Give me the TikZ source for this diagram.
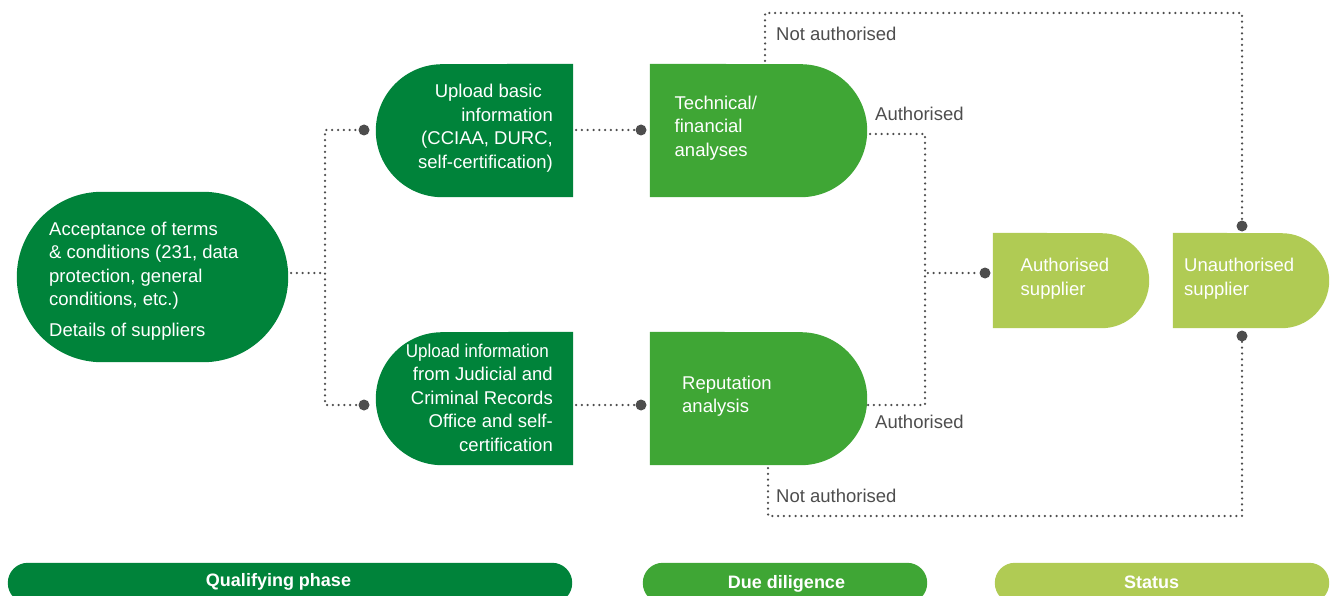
\documentclass[tikz,border=0pt]{standalone}
\usepackage{fontspec}
\setmainfont{Liberation Sans}
\usepackage{graphicx}
\definecolor{dkg}{RGB}{0,131,58}
\definecolor{mdg}{RGB}{63,166,53}
\definecolor{ltg}{RGB}{176,203,84}
\definecolor{gry}{RGB}{77,77,77}
\begin{document}
\begin{tikzpicture}[x=1pt,y=-1pt,
  shp/.style={rectangle,inner sep=0,draw=none},
  dotnode/.style={circle,fill=gry,inner sep=0,minimum size=11pt},
  conn/.style={draw=gry,line width=2.5pt,dash pattern=on 0pt off 5.8pt,dash phase=-2.9pt,line cap=round},
  txt/.style={inner sep=0,text=white,font=\fontsize{18.5}{23.5}\selectfont},
  lbl/.style={inner sep=0,text=gry,font=\fontsize{18.5}{23.5}\selectfont,anchor=base west},
  bartxt/.style={inner sep=0,text=white,font=\bfseries\fontsize{18}{22}\selectfont,anchor=base}]
\useasboundingbox (0,0) rectangle (1335,596);

% shapes
\node[shp,minimum width=271,minimum height=170] (acc) at (152.5,277) {};
\fill[dkg,rounded corners=85pt] (acc.south west) rectangle (acc.north east);

\node[shp,minimum width=197,minimum height=133] (up1) at (474.5,130.5) {};
\fill[dkg] (up1.north east) -- (up1.south east) -- ([xshift=66.5pt]up1.south west) arc[start angle=-90,end angle=-270,radius=66.5pt] -- cycle;

\node[shp,minimum width=197,minimum height=133] (up2) at (474.5,398.5) {};
\fill[dkg] (up2.north east) -- (up2.south east) -- ([xshift=66.5pt]up2.south west) arc[start angle=-90,end angle=-270,radius=66.5pt] -- cycle;

\node[shp,minimum width=217,minimum height=133] (tech) at (758.5,130.5) {};
\fill[mdg] (tech.north west) -- (tech.south west) -- ([xshift=-66.5pt]tech.south east) arc[start angle=-90,end angle=90,radius=66.5pt] -- cycle;

\node[shp,minimum width=217,minimum height=133] (rep) at (758.5,398.5) {};
\fill[mdg] (rep.north west) -- (rep.south west) -- ([xshift=-66.5pt]rep.south east) arc[start angle=-90,end angle=90,radius=66.5pt] -- cycle;

\node[shp,minimum width=156,minimum height=95] (auth) at (1071,280.5) {};
\fill[ltg] (auth.north west) -- (auth.south west) -- ([xshift=-47.5pt]auth.south east) arc[start angle=-90,end angle=90,radius=47.5pt] -- cycle;

\node[shp,minimum width=156,minimum height=95] (unauth) at (1251,280.5) {};
\fill[ltg] (unauth.north west) -- (unauth.south west) -- ([xshift=-47.5pt]unauth.south east) arc[start angle=-90,end angle=90,radius=47.5pt] -- cycle;

% bottom bars
\node[shp,minimum width=564,minimum height=40] (bq) at (290,583) {};
\fill[dkg,rounded corners=20pt] (bq.south west) rectangle (bq.north east);
\node[shp,minimum width=284,minimum height=40] (bd) at (785,583) {};
\fill[mdg,rounded corners=20pt] (bd.south west) rectangle (bd.north east);
\node[shp,minimum width=334,minimum height=40] (bs) at (1162,583) {};
\fill[ltg,rounded corners=20pt] (bs.south west) rectangle (bs.north east);

% dots
\node[dotnode] (d1) at (364,130) {};
\node[dotnode] (d2) at (364,405) {};
\node[dotnode] (d3) at (641,130) {};
\node[dotnode] (d4) at (641,405) {};
\node[dotnode] (d5) at (985,273) {};
\node[dotnode] (d6) at (1242,226) {};
\node[dotnode] (d7) at (1242,336) {};

% connectors
\coordinate (j1) at (325,273);
\coordinate (j2) at (925,405);
\coordinate (c1) at (1242,13);
\coordinate (c2) at (1242,516);
\draw[conn] ([yshift=4pt]acc.east) -- (j1);
\draw[conn] (d1) -| (j1) |- (d2);
\draw[conn] (up1.east |- d3) -- (d3);
\draw[conn] (up2.east |- d4) -- (d4);
\draw[conn] ([yshift=-3.5pt]tech.east) -| (j2) -- (rep.east |- j2);
\draw[conn] (j2 |- d5) -- (d5);
\draw[conn] ([xshift=6.5pt]tech.north) |- (c1) -- (d6);
\draw[conn] ([xshift=9.5pt]rep.south) |- (c2) -- (d7);

% texts
\node[txt,align=left,anchor=north west] (tacc) at (49,221.5) {Acceptance of terms\\ \& conditions (231, data\\ protection, general\\ conditions, etc.)\\[7pt] Details of suppliers};
\node[txt,align=right,anchor=north east] (tup1) at (553,84.2) {Upload basic\hspace*{11pt}\\ information\hspace*{6pt}\\ (CCIAA, DURC,\hspace*{6pt}\\ self-certification)};
\node[txt,align=right,anchor=north east] (tup2) at (553,343.8) {\scalebox{0.92}[1]{Upload information}\hspace*{4pt}\\ from Judicial and\hspace*{5pt}\\ Criminal Records\hspace*{6pt}\\ Office and self-\hspace*{1pt}\\ certification};
\node[txt,align=left,anchor=north west] (ttech) at (674.5,95.8) {Technical/\\ financial\\ analyses};
\node[txt,align=left,anchor=north west] (trep) at (682,375.5) {Reputation\\ analysis};
\node[txt,align=left,anchor=north west] (tauth) at (1020.5,258) {Authorised\\ supplier};
\node[txt,align=left,anchor=north west] (tunauth) at (1184,258) {Unauthorised\\ supplier};

\node[lbl] (na1) at (776,40.5) {Not authorised};
\node[lbl] (a1) at (875,120.7) {Authorised};
\node[lbl] (a2) at (875,428.3) {Authorised};
\node[lbl] (na2) at (776,502.7) {Not authorised};

\node[bartxt] (tq) at (278.5,586.7) {Qualifying phase};
\node[bartxt] (td) at (786.5,588.3) {Due diligence};
\node[bartxt] (ts) at (1151.5,588.3) {Status};
\end{tikzpicture}
\end{document}
